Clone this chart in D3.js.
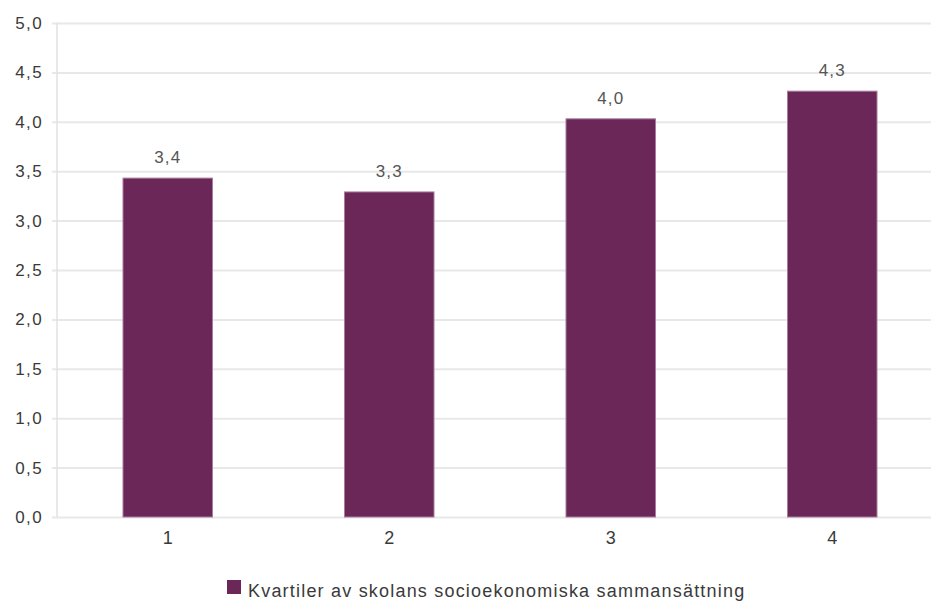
<!DOCTYPE html>
<html>
<head>
<meta charset="utf-8">
<script src="https://cdn.jsdelivr.net/npm/d3@7"></script>
<style>
  html, body { margin: 0; padding: 0; background: #ffffff; }
  svg { display: block; font-family: "Liberation Sans", Arial, sans-serif; }
</style>
</head>
<body>
<svg id="chart" width="931" height="602"></svg>
<script>
// Kvartiler (1 = lägst) och medelvärde per kvartil
const categories = ["1", "2", "3", "4"];
const values = [3.43, 3.29, 4.03, 4.31];
const yTicks = [0, 0.5, 1, 1.5, 2, 2.5, 3, 3.5, 4, 4.5, 5];
const seriesName = "Kvartiler av skolans socioekonomiska sammansättning";

const W = 931, H = 602;
const margin = { left: 57, top: 23, bottom: 85 };
const barColor = "#6a2758";

const svg = d3.select("#chart");
const fmt = v => d3.format(".1f")(v).replace(".", ",");

const x = d3.scaleBand()
  .domain(categories)
  .range([margin.left, margin.left + 4 * 221.5])
  .paddingInner(0)
  .paddingOuter(0);

const y = d3.scaleLinear()
  .domain([0, 5])
  .range([H - margin.bottom, margin.top]);

// horizontal grid lines with short tick stubs on the left
const yAxis = d3.axisLeft(y)
  .tickValues(yTicks)
  .tickSize(-(W - margin.left))
  .tickPadding(14)
  .tickFormat(fmt);

const gy = svg.append("g")
  .attr("transform", `translate(${margin.left},0)`)
  .call(yAxis);
gy.select(".domain").remove();
gy.selectAll(".tick line")
  .attr("x1", -5)
  .attr("stroke", "#e8e8e8")
  .attr("stroke-width", 2);
gy.selectAll(".tick text")
  .attr("fill", "#3a3a3a")
  .attr("font-size", 17)
  .attr("letter-spacing", 1.4);

// vertical axis line
svg.append("line")
  .attr("x1", margin.left).attr("x2", margin.left)
  .attr("y1", y(5)).attr("y2", y(0))
  .attr("stroke", "#e2e2e2")
  .attr("stroke-width", 1.5);

// category labels
const xAxis = d3.axisBottom(x).tickSize(0).tickPadding(14);
const gx = svg.append("g")
  .attr("transform", `translate(0,${y(0)})`)
  .call(xAxis);
gx.select(".domain").remove();
gx.selectAll(".tick text")
  .attr("fill", "#3a3a3a")
  .attr("font-size", 18);

// bars
const barW = x.bandwidth() * 0.404;
svg.append("g").selectAll("rect")
  .data(values)
  .join("rect")
  .attr("x", (d, i) => x(categories[i]) + (x.bandwidth() - barW) / 2)
  .attr("y", d => y(d))
  .attr("width", barW)
  .attr("height", d => y(0) - y(d))
  .attr("fill", barColor)
  .attr("stroke", "#a77c9c")
  .attr("stroke-width", 1);

// value labels
svg.append("g").selectAll("text")
  .data(values)
  .join("text")
  .attr("x", (d, i) => x(categories[i]) + x.bandwidth() / 2)
  .attr("y", d => y(d) - 15)
  .attr("text-anchor", "middle")
  .attr("fill", "#555")
  .attr("font-size", 17)
  .attr("letter-spacing", 1.2)
  .text(d => fmt(d));

// legend
const lg = svg.append("g").attr("transform", "translate(227,580)");
lg.append("rect")
  .attr("width", 14).attr("height", 14)
  .attr("fill", barColor);
lg.append("text")
  .attr("x", 21).attr("y", 17)
  .attr("fill", "#3a3a3a")
  .attr("font-size", 18)
  .attr("letter-spacing", 1.2)
  .text(seriesName);
</script>
</body>
</html>
